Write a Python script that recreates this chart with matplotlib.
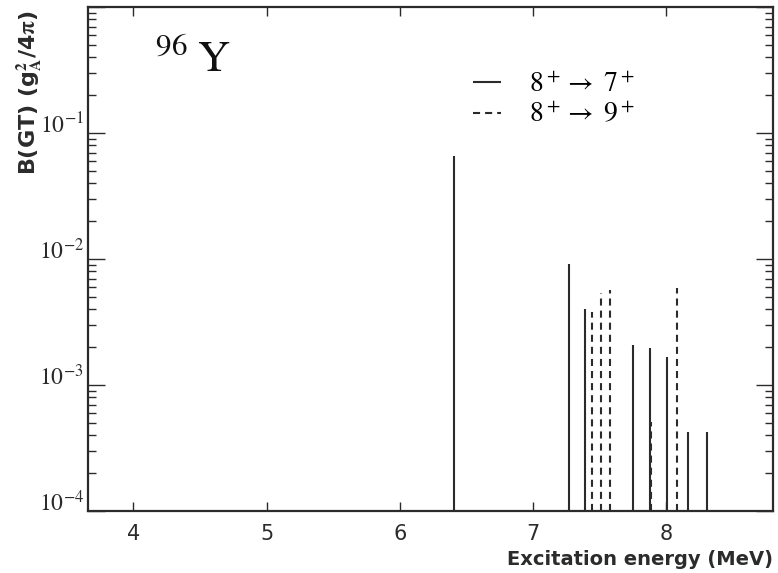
import numpy as np
import matplotlib
matplotlib.use('Agg')
import matplotlib.pyplot as plt
from matplotlib.ticker import FixedLocator, FuncFormatter, LogLocator, NullFormatter

# B(GT) strengths
e_to7 = [6.405, 7.27, 7.39, 7.746, 7.879, 8.007, 8.16, 8.305]
b_to7 = [0.066, 0.0092, 0.0040, 0.00206, 0.00197, 0.00167, 0.00042, 0.00042]
e_to9 = [7.444, 7.51, 7.58, 7.885, 8.08]
b_to9 = [0.0038, 0.0054, 0.0057, 0.00051, 0.0059]
xticks = [4, 5, 6, 7, 8]

plt.rcParams['mathtext.fontset'] = 'stix'
ink = '#2b2b2b'

fig = plt.figure(figsize=(7.78, 5.73), dpi=100)
ax = fig.add_axes([0.1131, 0.1082, 0.8805, 0.8796])

ymin = 1e-4
ax.vlines(e_to7, ymin, b_to7, colors=ink, linewidth=1.5, label=r'$8^+ \rightarrow\ 7^+$')
ax.vlines(e_to9, ymin, b_to9, colors=ink, linewidth=1.5, linestyles=[(0, (3.4, 2.4))],
          label=r'$8^+ \rightarrow\ 9^+$')

ax.set_yscale('log')
ax.set_ylim(1e-4, 1.0)
ax.set_xlim(3.66, 8.8)

ax.xaxis.set_major_locator(FixedLocator(xticks))
ax.yaxis.set_major_locator(LogLocator(base=10, numticks=10))
ax.yaxis.set_minor_locator(LogLocator(base=10, subs=np.arange(2, 10), numticks=20))
ax.yaxis.set_minor_formatter(NullFormatter())
# no label at the top decade
ax.yaxis.set_major_formatter(FuncFormatter(
    lambda v, p: '' if v >= 1 else r'$10^{%d}$' % round(np.log10(v))))

ax.tick_params(axis='both', which='both', direction='in', top=True, right=True, color=ink)
ax.tick_params(axis='x', which='major', length=6.5, width=1, labelsize=15, pad=9, labelcolor=ink)
ax.tick_params(axis='y', which='major', length=12, width=1, labelsize=17, pad=3, labelcolor=ink)
ax.tick_params(axis='y', which='minor', length=6, width=1)
for lbl in ax.get_yticklabels():
    lbl.set_verticalalignment('baseline')
for s in ax.spines.values():
    s.set_linewidth(1.6)
    s.set_color(ink)

ax.set_xlabel('Excitation energy (MeV)', loc='right', fontsize=14, fontweight='bold',
              color=ink, labelpad=5)
ax.set_ylabel(r'B(GT) (g$^{\mathbf{2}}_{\mathbf{A}}$/4$\mathbf{\pi}$)', loc='top', fontsize=16,
              fontweight='bold', color=ink)
ax.yaxis.set_label_coords(-0.064, 0.994)

ax.text(0.098, 0.871, r'$^{96}\;\mathrm{Y}$', transform=ax.transAxes, fontsize=32,
        va='baseline', ha='left', color='#111111')

leg = ax.legend(loc='upper left', bbox_to_anchor=(0.546, 0.898), frameon=False, fontsize=20,
                handlelength=1.0, handletextpad=1.0, labelspacing=0.1, borderaxespad=0)

fig.savefig('out.png', dpi=100)
